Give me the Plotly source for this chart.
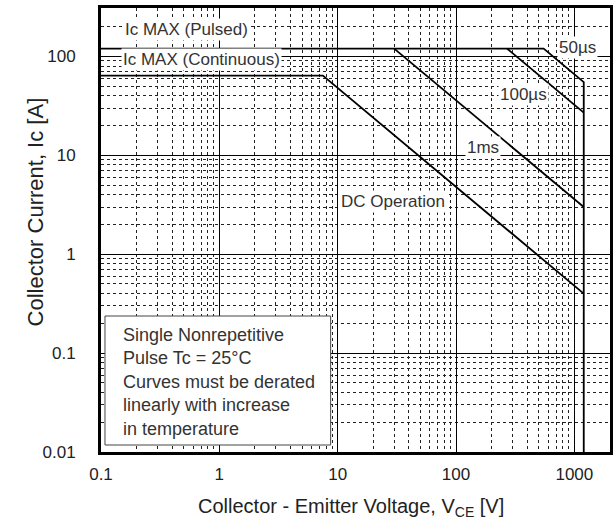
import plotly.graph_objects as go
import numpy as np

# ---- data ----
pulsed_v = [0.1, 550, 1200, 1200]      # Ic MAX (Pulsed) + 50us boundary + Vces limit
pulsed_i = [120, 120, 55, 0.01]
us100_v = [270, 1200]
us100_i = [120, 27]
ms1_v = [30, 1200]
ms1_i = [120, 3]
dc_v = [0.1, 7.5, 1200]
dc_i = [64, 64, 0.4]

x_ticks = [0.1, 1, 10, 100, 1000]
x_ticktext = ["0.1", "1", "10", "100", "1000"]
y_ticks = [0.01, 0.1, 1, 10, 100]
y_ticktext = ["0.01", "0.1", "1", "10", "100"]

labels = ["Ic MAX (Pulsed)", "Ic MAX (Continuous)", "50µs", "100µs", "1ms", "DC Operation"]
label_x = [0.53, 0.70, 1070, 368, 169, 29.2]
label_y = [188, 94, 123, 41.3, 12.05, 3.43]

note_text = ["Single Nonrepetitive", "Pulse Tc = 25°C", "Curves must be derated",
             "linearly with increase", "in temperature"]

FONT = "Liberation Sans, Arial, sans-serif"
TXT = "#333333"

x_minor = [k * 10.0 ** d for d in range(-1, 3) for k in range(2, 10)] + [2000]
y_minor = [k * 10.0 ** d for d in range(-2, 2) for k in range(2, 10)] + [200]

fig = go.Figure()
for xv, yv in [(pulsed_v, pulsed_i), (us100_v, us100_i), (ms1_v, ms1_i), (dc_v, dc_i)]:
    fig.add_trace(go.Scatter(x=xv, y=yv, mode="lines",
                             line=dict(color="black", width=1.8),
                             showlegend=False, hoverinfo="skip"))

for t, xv, yv in zip(labels, label_x, label_y):
    fig.add_annotation(x=np.log10(xv), y=np.log10(yv), text=t, showarrow=False,
                       font=dict(family=FONT, size=17, color=TXT),
                       bgcolor="white", borderpad=1)

# note box
fig.add_shape(type="rect", xref="paper", yref="paper",
              x0=(105 - 101) / 512, x1=(332 - 101) / 512,
              y0=(452 - 445) / 444, y1=(452 - 316) / 444,
              fillcolor="white", line=dict(color="#444444", width=1), layer="above")
fig.add_annotation(xref="paper", yref="paper", x=(121 - 101) / 512, y=(452 - 382) / 444,
                   xanchor="left", yanchor="middle", align="left", showarrow=False,
                   text="<br>".join(note_text),
                   font=dict(family=FONT, size=18, color=TXT))

# axis titles
fig.add_annotation(xref="paper", yref="paper", x=(352 - 101) / 512, y=-(507 - 452) / 444,
                   xanchor="center", yanchor="middle", showarrow=False,
                   text="Collector - Emitter Voltage, V<sub>CE</sub> [V]",
                   font=dict(family=FONT, size=20, color="#222222"))
fig.add_annotation(xref="paper", yref="paper", x=(35 - 101) / 512, y=(452 - 212) / 444,
                   xanchor="center", yanchor="middle", showarrow=False, textangle=-90,
                   text="Collector Current, Ic [A]",
                   font=dict(family=FONT, size=22, color="#222222"))

axis_common = dict(showline=True, linewidth=3, linecolor="black", mirror=True,
                   showgrid=True, gridcolor="black", gridwidth=1.3,
                   ticks="outside", tickcolor="rgba(0,0,0,0)",
                   tickfont=dict(family=FONT, size=17, color="#222222"))

fig.update_xaxes(type="log", range=[-1, np.log10(2000)],
                 tickvals=x_ticks, ticktext=x_ticktext, ticklen=5,
                 minor=dict(tickvals=x_minor, showgrid=True, gridcolor="#222222",
                            griddash="dot", gridwidth=1, ticks=""),
                 **axis_common)
fig.update_yaxes(type="log", range=[-2, 2.49],
                 tickvals=y_ticks, ticktext=y_ticktext, ticklen=19,
                 minor=dict(tickvals=y_minor, showgrid=True, gridcolor="#222222",
                            griddash="dot", gridwidth=1, ticks=""),
                 **axis_common)

fig.update_layout(width=615, height=531,
                  margin=dict(l=101, r=2, t=8, b=79),
                  paper_bgcolor="white", plot_bgcolor="white",
                  font=dict(family=FONT))

fig.write_html("out.html")
